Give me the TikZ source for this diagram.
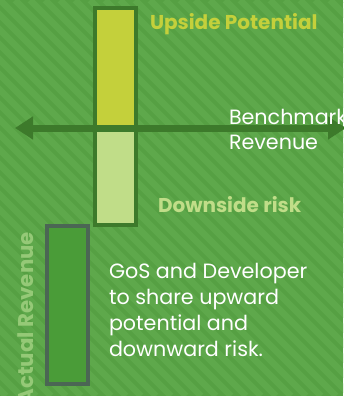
\documentclass[tikz,border=0pt]{standalone}
\usepackage{fontspec}
\setmainfont{Poppins}
\usetikzlibrary{arrows.meta}
\definecolor{bgA}{HTML}{56A043}
\definecolor{bgB}{HTML}{5EA84B}
\definecolor{darkG}{HTML}{3D7A2B}
\definecolor{upFill}{HTML}{C4D03B}
\definecolor{downFill}{HTML}{C0DD88}
\definecolor{actFill}{HTML}{4A9C38}
\definecolor{actLine}{HTML}{4B6654}
\definecolor{actText}{HTML}{95C977}
\tikzset{
  barbox/.style={draw=darkG, line width=3pt, rectangle, inner sep=0pt, outer sep=0pt, minimum width=30.75pt},
  lbl/.style={inner sep=0pt, outer sep=0pt, anchor=base west},
}
\begin{document}
\begin{tikzpicture}[x=0.75pt,y=-0.75pt]
\useasboundingbox (0,0) rectangle (343,396);
\fill[bgA] (0,0) rectangle (343,396);
\begin{scope}
\clip (0,0) rectangle (343,396);
\foreach \s in {-420,-405,...,345} {
  \draw[bgB, line width=5pt] (\s,0) -- (\s+396,396);
}
\end{scope}
\node[barbox, fill=upFill, minimum height=90pt] (up) at (115.5,68) {};
\node[barbox, fill=downFill, minimum height=72.75pt] (down) at (115.5,176.5) {};
\node[draw=actLine, line width=3pt, fill=actFill, rectangle, inner sep=0pt, outer sep=0pt, minimum width=30.75pt, minimum height=118.5pt] (act) at (67.5,305) {};
\coordinate (aL) at (15,128);
\coordinate (aR) at (346,128);
\draw[darkG, line width=5.25pt, {Triangle[length=13.5pt,width=16.5pt]}-{Triangle[length=13.5pt,width=16.5pt]}] (aL) -- (aR);
\node[lbl, text=upFill, font=\fontsize{15}{18}\selectfont\bfseries] (upt) at (150,29) {Upside Potential};
\node[lbl, text=downFill, font=\fontsize{15}{18}\selectfont\bfseries] (dnt) at (158,212) {Downside risk};
\node[lbl, text=white, font=\fontsize{15.5}{18.75}\selectfont, align=left] (bench) at (229,149) {Benchmark\\Revenue};
\node[lbl, text=white, font=\fontsize{15.5}{19.5}\selectfont, align=left] (body) at (109,356) {GoS and Developer\\to share upward\\potential and\\downward risk.};
\node[inner sep=0pt, outer sep=0pt, anchor=base east, rotate=90, text=actText, font=\fontsize{16}{19}\selectfont\bfseries] (actt) at (33,232) {Actual Revenue};
\end{tikzpicture}
\end{document}
